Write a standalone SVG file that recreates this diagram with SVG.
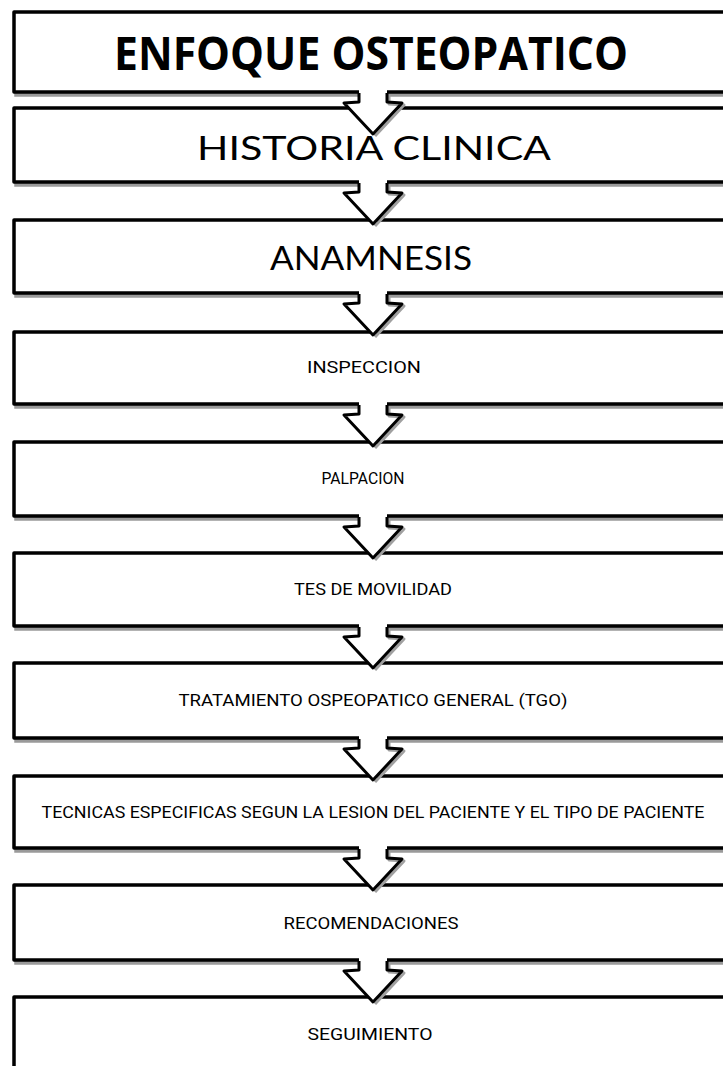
<svg xmlns="http://www.w3.org/2000/svg" width="723" height="1066" viewBox="0 0 723 1066">
<style>
.box{fill:#fff;stroke:#000;stroke-width:3.5;stroke-linejoin:round}
.bsh{fill:#9a9a9a;stroke:#9a9a9a;stroke-width:3.5}
.afill{fill:#fff;stroke:none}
.aline{fill:none;stroke:#000;stroke-width:3;stroke-linejoin:round}
.ash{fill:none;stroke:#a0a0a0;stroke-width:3;stroke-linejoin:round}
.t1{font-family:"Open Sans","Liberation Sans",sans-serif;font-weight:700;font-size:46px;fill:#000}
.t2{font-family:"Lato","DejaVu Sans",sans-serif;font-weight:400;font-size:33px;fill:#000}
.t3{font-family:"Roboto","Liberation Sans",sans-serif;font-weight:400;font-size:16px;fill:#000}
</style>
<defs>
<g id="arr">
<polygon class="afill" points="-14,-4 14,-4 14,9 29,10 0,41 -29,10 -14,9"/>
<polyline class="ash" points="16,2 16,11 31,12 2,43" />
<polyline class="aline" points="-14,0 -14,9 -29,10 0,41 29,10 14,9 14,0"/>
</g>
</defs>
<g id="boxes">
<g id="n1"><rect class="bsh" x="16" y="15" width="730" height="80"/><rect class="box" x="14" y="12" width="730" height="80"/></g>
<g id="n2"><rect class="bsh" x="16" y="111" width="730" height="74"/><rect class="box" x="14" y="108" width="730" height="74"/></g>
<g id="n3"><rect class="bsh" x="16" y="223" width="730" height="73"/><rect class="box" x="14" y="220" width="730" height="73"/></g>
<g id="n4"><rect class="bsh" x="16" y="335" width="730" height="72"/><rect class="box" x="14" y="332" width="730" height="72"/></g>
<g id="n5"><rect class="bsh" x="16" y="445" width="730" height="74"/><rect class="box" x="14" y="442" width="730" height="74"/></g>
<g id="n6"><rect class="bsh" x="16" y="556" width="730" height="73"/><rect class="box" x="14" y="553" width="730" height="73"/></g>
<g id="n7"><rect class="bsh" x="16" y="666" width="730" height="75"/><rect class="box" x="14" y="663" width="730" height="75"/></g>
<g id="n8"><rect class="bsh" x="16" y="779" width="730" height="72"/><rect class="box" x="14" y="776" width="730" height="72"/></g>
<g id="n9"><rect class="bsh" x="16" y="888" width="730" height="75"/><rect class="box" x="14" y="885" width="730" height="75"/></g>
<g id="n10"><rect class="bsh" x="16" y="1000" width="730" height="90"/><rect class="box" x="14" y="997" width="730" height="90"/></g>
</g>
<g id="connectors">
<use href="#arr" x="373" y="93"/>
<use href="#arr" x="373" y="183"/>
<use href="#arr" x="373" y="294"/>
<use href="#arr" x="373" y="405"/>
<use href="#arr" x="373" y="517"/>
<use href="#arr" x="373" y="627"/>
<use href="#arr" x="373" y="739"/>
<use href="#arr" x="373" y="849"/>
<use href="#arr" x="373" y="961"/>
</g>
<g id="labels" text-anchor="middle">
<text class="t1" x="371" y="70" textLength="514" lengthAdjust="spacingAndGlyphs">ENFOQUE OSTEOPATICO</text>
<text class="t2" x="374" y="160" textLength="354" lengthAdjust="spacingAndGlyphs">HISTORIA CLINICA</text>
<text class="t2" x="371" y="270" textLength="202" lengthAdjust="spacingAndGlyphs">ANAMNESIS</text>
<text class="t3" x="364" y="373" textLength="114" lengthAdjust="spacingAndGlyphs">INSPECCION</text>
<text class="t3" x="363" y="484" textLength="83" lengthAdjust="spacingAndGlyphs">PALPACION</text>
<text class="t3" x="373" y="595" textLength="158" lengthAdjust="spacingAndGlyphs">TES DE MOVILIDAD</text>
<text class="t3" x="373" y="706" textLength="389" lengthAdjust="spacingAndGlyphs">TRATAMIENTO OSPEOPATICO GENERAL (TGO)</text>
<text class="t3" x="373" y="818" textLength="663" lengthAdjust="spacingAndGlyphs">TECNICAS ESPECIFICAS SEGUN LA LESION DEL PACIENTE Y EL TIPO DE PACIENTE</text>
<text class="t3" x="371" y="929" textLength="175" lengthAdjust="spacingAndGlyphs">RECOMENDACIONES</text>
<text class="t3" x="370" y="1040" textLength="125" lengthAdjust="spacingAndGlyphs">SEGUIMIENTO</text>
</g>
</svg>
